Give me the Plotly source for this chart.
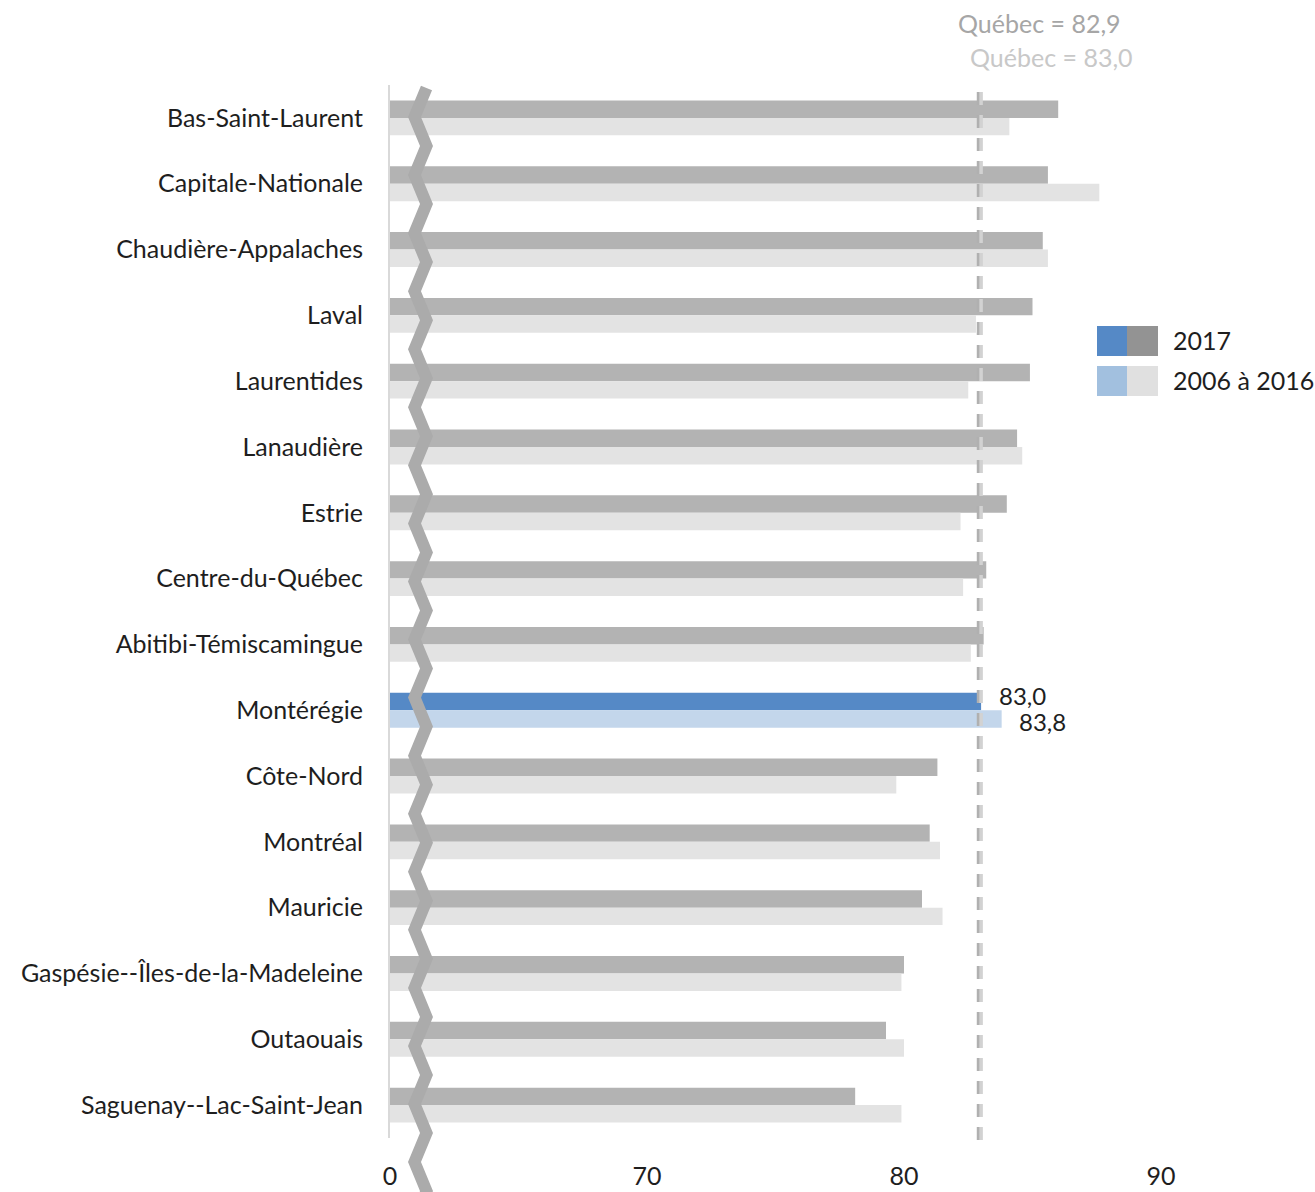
import plotly.graph_objects as go

# Life expectancy by region, 2017 vs. 2006-2016 average
regions = [
    "Bas-Saint-Laurent", "Capitale-Nationale", "Chaudière-Appalaches", "Laval",
    "Laurentides", "Lanaudière", "Estrie", "Centre-du-Québec",
    "Abitibi-Témiscamingue", "Montérégie", "Côte-Nord", "Montréal",
    "Mauricie", "Gaspésie--Îles-de-la-Madeleine", "Outaouais", "Saguenay--Lac-Saint-Jean",
]
values_2017 = [86.0, 85.6, 85.4, 85.0, 84.9, 84.4, 84.0, 83.2,
               83.1, 83.0, 81.3, 81.0, 80.7, 80.0, 79.3, 78.1]
values_2006_2016 = [84.1, 87.6, 85.6, 82.8, 82.5, 84.6, 82.2, 82.3,
                    82.6, 83.8, 79.7, 81.4, 81.5, 79.9, 80.0, 79.9]
quebec_2017 = 82.9
quebec_2006_2016 = 83.0
highlight = "Montérégie"

# Axis break: the scale runs from 60 to 90, the first tick reads 0
tick_vals = [60, 70, 80, 90]
tick_text = ["0", "70", "80", "90"]

FONT = "Lato"
FS = 25
TXT = "#1e1e1e"
GREY_17, GREY_PER = "#b3b3b3", "#e3e3e3"
BLUE_17, BLUE_PER = "#5589c6", "#c3d6eb"

W, H = 1315, 1192
L, R, T, B = 390, 154, 85, 54
PW, PH = W - L - R, H - T - B


def px(x):
    return (x - L) / PW


def py(y):
    return (H - B - y) / PH


def fmt(v):
    return f"{v:.1f}".replace(".", ",")


fig = go.Figure()
fig.add_bar(
    y=regions, x=values_2017, orientation="h", name="2017",
    marker=dict(color=[BLUE_17 if r == highlight else GREY_17 for r in regions], line_width=0),
)
fig.add_bar(
    y=regions, x=values_2006_2016, orientation="h", name="2006 à 2016",
    marker=dict(color=[BLUE_PER if r == highlight else GREY_PER for r in regions], line_width=0),
)

shapes = []
# Québec reference lines
for val, col in [(quebec_2017, "#b0b0b0"), (quebec_2006_2016, "#d2d2d2")]:
    shapes.append(dict(type="line", xref="x", yref="paper", x0=val, x1=val,
                       y0=py(1140), y1=py(92), layer="above",
                       line=dict(color=col, width=3.5, dash="13px,10px")))

# Zigzag axis-break marker
xl, xr = px(414.5), px(426.5)
step = 58.06
pts = []
k = -1
while True:
    yr = 146 + step * k
    yl = 117 + step * (k + 1)
    pts.append((xr, py(yr)))
    if yr > H + 10:
        break
    pts.append((xl, py(yl)))
    k += 1
path = "M " + " L ".join(f"{a:.5f},{b:.5f}" for a, b in pts)
shapes.append(dict(type="path", xref="paper", yref="paper", path=path, layer="above",
                   line=dict(color="#ababab", width=12)))

# Custom two-swatch legend
legend_rows = [("2017", BLUE_17, "#939393", 326), ("2006 à 2016", "#a2c0df", "#e0e0e0", 366)]
annotations = []
for label, c1, c2, top in legend_rows:
    shapes.append(dict(type="rect", xref="paper", yref="paper", x0=px(1097), x1=px(1127),
                       y0=py(top + 30), y1=py(top), fillcolor=c1, line_width=0))
    shapes.append(dict(type="rect", xref="paper", yref="paper", x0=px(1127), x1=px(1158),
                       y0=py(top + 30), y1=py(top), fillcolor=c2, line_width=0))
    annotations.append(dict(xref="paper", yref="paper", x=px(1171), y=py(top + 14), text=label,
                            xanchor="left", yanchor="middle", showarrow=False,
                            font=dict(family=FONT, size=FS, color=TXT)))

# Québec labels
annotations.append(dict(xref="x", yref="paper", x=quebec_2017, y=py(23), xshift=61,
                        text=f"Québec = {fmt(quebec_2017)}", showarrow=False,
                        xanchor="center", yanchor="middle",
                        font=dict(family=FONT, size=FS, color="#a6a6a6")))
annotations.append(dict(xref="x", yref="paper", x=quebec_2006_2016, y=py(57), xshift=70,
                        text=f"Québec = {fmt(quebec_2006_2016)}", showarrow=False,
                        xanchor="center", yanchor="middle",
                        font=dict(family=FONT, size=FS, color="#c8c8c8")))

# Value labels on the highlighted region
i = regions.index(highlight)
annotations.append(dict(xref="x", yref="y", x=values_2017[i], y=highlight, xshift=16, yshift=15,
                        text=fmt(values_2017[i]), showarrow=False, xanchor="left", yanchor="middle",
                        font=dict(family=FONT, size=24, color=TXT)))
annotations.append(dict(xref="x", yref="y", x=values_2006_2016[i], y=highlight, xshift=15, yshift=-11,
                        text=fmt(values_2006_2016[i]), showarrow=False, xanchor="left", yanchor="middle",
                        font=dict(family=FONT, size=24, color=TXT)))

fig.update_layout(
    width=W, height=H,
    margin=dict(l=L, r=R, t=T, b=B, pad=0),
    paper_bgcolor="white", plot_bgcolor="white",
    barmode="group", bargap=0.47, bargroupgap=0,
    showlegend=False,
    shapes=shapes, annotations=annotations,
    font=dict(family=FONT, size=FS, color=TXT),
)
fig.update_xaxes(range=[60, 90], tickvals=tick_vals, ticktext=tick_text, automargin=False,
                 showgrid=False, zeroline=False, showline=False, ticks="",
                 ticklabelstandoff=21, tickfont=dict(family=FONT, size=FS, color=TXT))
fig.update_yaxes(autorange="reversed", showgrid=False, zeroline=False, automargin=False,
                 showline=True, linecolor="#d9d9d9", linewidth=2, ticks="",
                 ticklabelstandoff=20, tickfont=dict(family=FONT, size=FS, color=TXT))

fig.write_html("out.html")
